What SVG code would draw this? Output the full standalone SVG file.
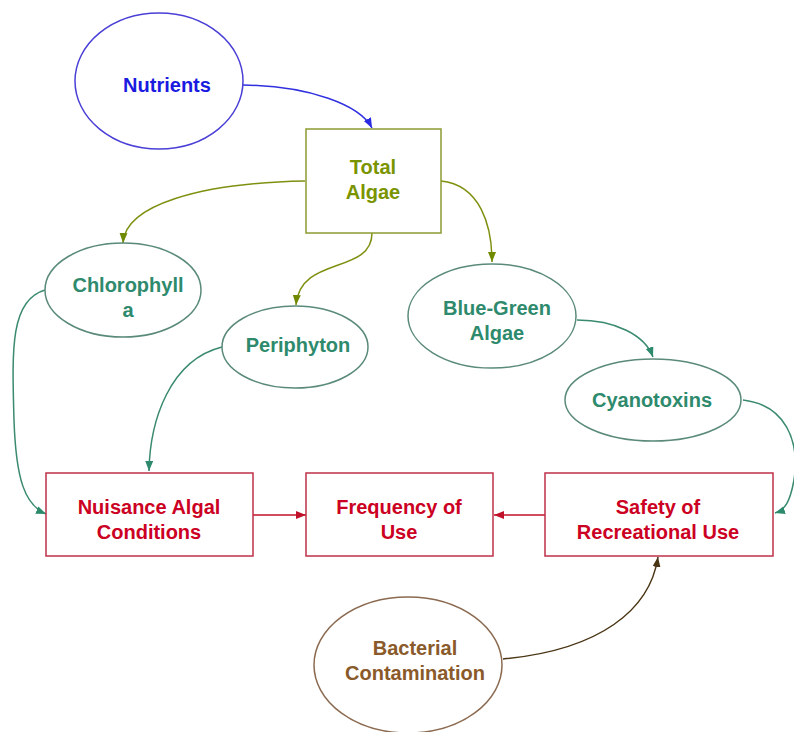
<svg xmlns="http://www.w3.org/2000/svg" width="794" height="732" viewBox="0 0 794 732">
<style>
text{font-family:"Liberation Sans",Arial,sans-serif;font-size:20px;font-weight:bold;text-anchor:middle}
.n{fill:#fff;stroke-width:1.5}
.c{fill:none;stroke-width:1.5}
.blue{fill:#1a1ae0}
.olive{fill:#7a9400}
.teal{fill:#2e8a6c}
.red{fill:#cc0022}
.brown{fill:#8a5a2a}
</style>
<defs>
<marker id="aBlue" markerUnits="userSpaceOnUse" markerWidth="11" markerHeight="9" refX="10" refY="4" orient="auto"><path d="M0,0L10,4L0,8z" fill="#2a2ae0"/></marker>
<marker id="aOlive" markerUnits="userSpaceOnUse" markerWidth="11" markerHeight="9" refX="10" refY="4" orient="auto"><path d="M0,0L10,4L0,8z" fill="#6f8a00"/></marker>
<marker id="aTeal" markerUnits="userSpaceOnUse" markerWidth="11" markerHeight="9" refX="10" refY="4" orient="auto"><path d="M0,0L10,4L0,8z" fill="#2e8a6c"/></marker>
<marker id="aRed" markerUnits="userSpaceOnUse" markerWidth="11" markerHeight="9" refX="10" refY="4" orient="auto"><path d="M0,0L10,4L0,8z" fill="#c0102a"/></marker>
<marker id="aBrown" markerUnits="userSpaceOnUse" markerWidth="11" markerHeight="9" refX="10" refY="4" orient="auto"><path d="M0,0L10,4L0,8z" fill="#4a3515"/></marker>
</defs>
<rect width="794" height="732" fill="#fff"/>
<g id="connectors">
<path class="c" stroke="#3030e0" marker-end="url(#aBlue)" d="M243,85 C310,86 360,105 372,128"/>
<path class="c" stroke="#7f9010" marker-end="url(#aOlive)" d="M305,181 C200,183 125,205 123,243"/>
<path class="c" stroke="#7f9010" marker-end="url(#aOlive)" d="M372,233 C372,275 300,255 296,305"/>
<path class="c" stroke="#7f9010" marker-end="url(#aOlive)" d="M441,181 C480,185 492,225 492,262"/>
<path class="c" stroke="#3a8a70" marker-end="url(#aTeal)" d="M577,320 C615,320 645,335 653,357"/>
<path class="c" stroke="#3a8a70" marker-end="url(#aTeal)" d="M743,400 C785,405 800,440 794,480 C790,502 785,510 775,513"/>
<path class="c" stroke="#3a8a70" marker-end="url(#aTeal)" d="M45,290 C10,300 12,350 14,420 C16,480 25,505 46,514"/>
<path class="c" stroke="#3a8a70" marker-end="url(#aTeal)" d="M222,347 C170,360 150,420 149,471"/>
<path class="c" stroke="#c0102a" marker-end="url(#aRed)" d="M253,515 L306,515"/>
<path class="c" stroke="#c0102a" marker-end="url(#aRed)" d="M545,515 L494,515"/>
<path class="c" stroke="#4a3515" marker-end="url(#aBrown)" d="M503,659 C600,650 650,610 658,557"/>
</g>
<g id="nutrients">
<ellipse class="n" cx="159" cy="81" rx="84" ry="68" stroke="#4a3fd6"/>
<text class="blue" x="167" y="92">Nutrients</text>
</g>
<g id="total-algae">
<rect class="n" x="306" y="129" width="135" height="104" stroke="#8c9c30"/>
<text class="olive" x="373" y="174">Total</text>
<text class="olive" x="373" y="199">Algae</text>
</g>
<g id="chlorophyll">
<ellipse class="n" cx="123" cy="290" rx="78" ry="47" stroke="#5a8a7a"/>
<text class="teal" x="128" y="292">Chlorophyll</text>
<text class="teal" x="128" y="317">a</text>
</g>
<g id="periphyton">
<ellipse class="n" cx="295" cy="347" rx="73" ry="41" stroke="#5a8a7a"/>
<text class="teal" x="298" y="352">Periphyton</text>
</g>
<g id="blue-green-algae">
<ellipse class="n" cx="492" cy="316" rx="84" ry="52" stroke="#5a8a7a"/>
<text class="teal" x="497" y="315">Blue-Green</text>
<text class="teal" x="497" y="340">Algae</text>
</g>
<g id="cyanotoxins">
<ellipse class="n" cx="653" cy="400" rx="88" ry="41" stroke="#5a8a7a"/>
<text class="teal" x="652" y="407">Cyanotoxins</text>
</g>
<g id="nuisance">
<rect class="n" x="46" y="473" width="207" height="83" stroke="#c0304a"/>
<text class="red" x="149" y="514">Nuisance Algal</text>
<text class="red" x="149" y="539">Conditions</text>
</g>
<g id="frequency">
<rect class="n" x="306" y="473" width="187" height="83" stroke="#c0304a"/>
<text class="red" x="399" y="514">Frequency of</text>
<text class="red" x="399" y="539">Use</text>
</g>
<g id="safety">
<rect class="n" x="545" y="473" width="228" height="83" stroke="#c0304a"/>
<text class="red" x="658" y="514">Safety of</text>
<text class="red" x="658" y="539">Recreational Use</text>
</g>
<g id="bacterial">
<ellipse class="n" cx="408" cy="665" rx="94" ry="68" stroke="#8b6a50"/>
<text class="brown" x="415" y="655">Bacterial</text>
<text class="brown" x="415" y="680">Contamination</text>
</g>
</svg>
